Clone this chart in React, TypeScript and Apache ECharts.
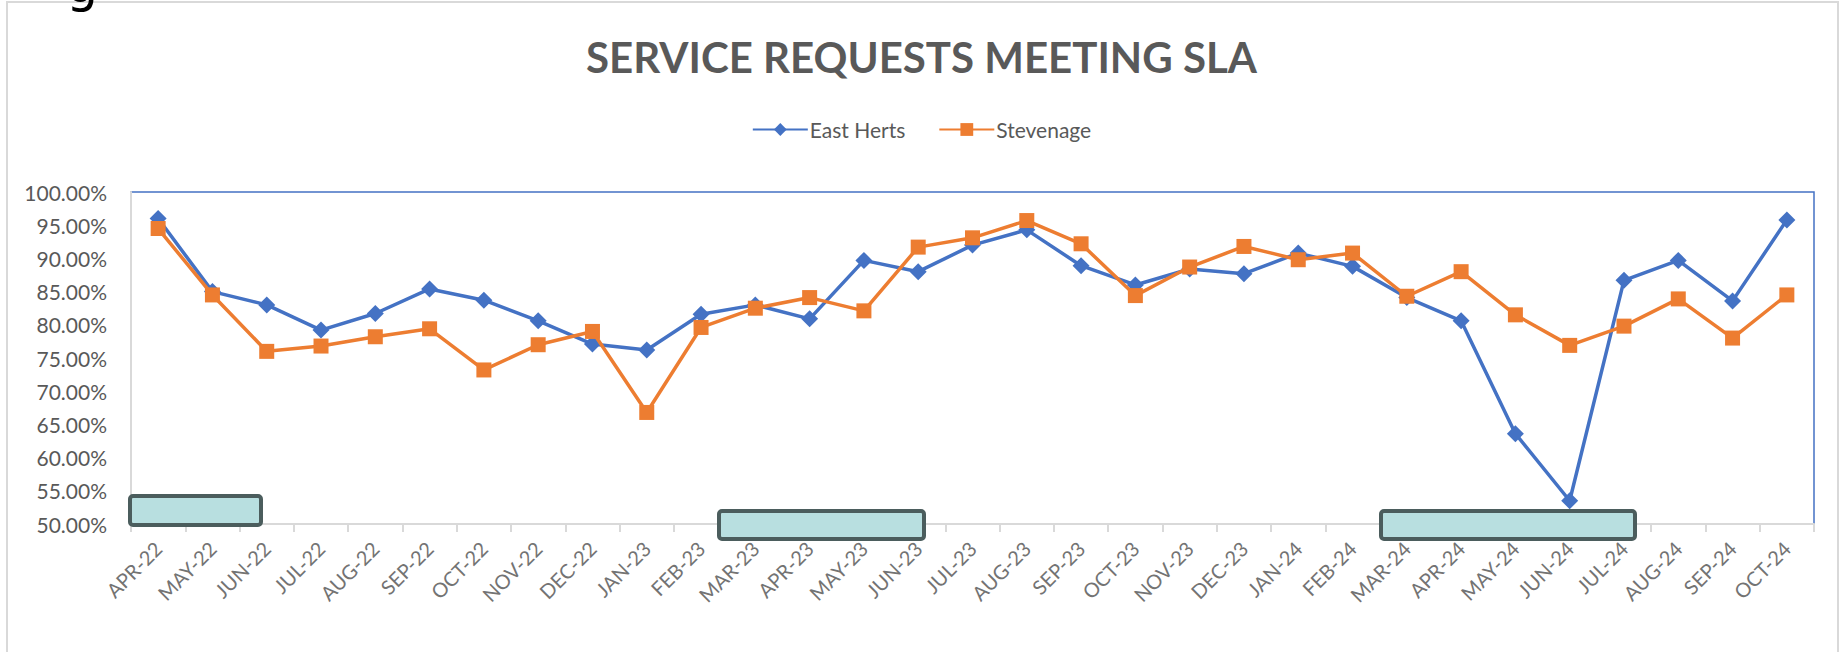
import React, { useEffect, useRef } from "react";
import * as echarts from "echarts";

const categories = [
  "APR-22", "MAY-22", "JUN-22", "JUL-22", "AUG-22", "SEP-22", "OCT-22", "NOV-22", "DEC-22",
  "JAN-23", "FEB-23", "MAR-23", "APR-23", "MAY-23", "JUN-23", "JUL-23", "AUG-23", "SEP-23",
  "OCT-23", "NOV-23", "DEC-23", "JAN-24", "FEB-24", "MAR-24", "APR-24", "MAY-24", "JUN-24",
  "JUL-24", "AUG-24", "SEP-24", "OCT-24",
];

const eastHerts = [
  96.0, 85.0, 83.0, 79.2, 81.7, 85.4, 83.7, 80.6, 77.1, 76.2, 81.6, 83.0, 80.9, 89.7, 88.0,
  92.0, 94.3, 88.9, 86.0, 88.4, 87.7, 90.8, 88.8, 84.1, 80.6, 63.6, 53.5, 86.7, 89.7, 83.6, 95.8,
];

const stevenage = [
  94.5, 84.5, 76.0, 76.8, 78.2, 79.4, 73.2, 77.0, 79.0, 66.8, 79.6, 82.5, 84.1, 82.1, 91.7,
  93.1, 95.7, 92.2, 84.4, 88.7, 91.8, 89.8, 90.8, 84.3, 88.0, 81.5, 76.9, 79.8, 83.9, 78.0, 84.5,
];

const seriesNames = ["East Herts", "Stevenage"];
const titleText = "SERVICE REQUESTS MEETING SLA";
const yMin = 50;
const yMax = 100;
const yStep = 5;

const FONT = "Lato, 'Open Sans', sans-serif";

export default function App() {
  const ref = useRef<HTMLDivElement>(null);

  useEffect(() => {
    if (!ref.current) return;
    const chart = echarts.init(ref.current, null, { renderer: "svg" });

    const box = (x: number, y: number, w: number, h: number) => ({
      type: "rect",
      shape: { x, y, width: w, height: h, r: 3 },
      style: { fill: "#B8DFE0", stroke: "#4B5D5D", lineWidth: 4 },
      z: 100,
    });

    chart.setOption({
      animation: false,
      backgroundColor: "#ffffff",
      title: {
        text: titleText,
        left: "center",
        top: 31,
        textStyle: {
          fontFamily: FONT,
          fontSize: 42,
          fontWeight: "bold",
          color: "#595959",
        },
      },
      legend: {
        data: seriesNames,
        top: 114,
        left: "center",
        itemWidth: 55,
        itemHeight: 16,
        itemGap: 33,
        textStyle: { fontFamily: FONT, fontSize: 21, color: "#595959", padding: [0, 0, 0, -3] },
      },
      grid: {
        left: 131,
        right: 29,
        top: 192,
        bottom: 128,
        show: true,
        borderColor: "#4472C4",
        borderWidth: 1.5,
        containLabel: false,
      },
      xAxis: {
        type: "category",
        data: categories,
        boundaryGap: true,
        axisLine: { show: true, lineStyle: { color: "#D9D9D9", width: 2 } },
        axisTick: { show: true, length: 8, lineStyle: { color: "#D9D9D9", width: 2 } },
        axisLabel: {
          interval: 0,
          rotate: 45,
          margin: 21,
          fontFamily: FONT,
          fontSize: 20,
          color: "#737373",
        },
        splitLine: { show: false },
      },
      yAxis: {
        type: "value",
        min: yMin,
        max: yMax,
        interval: yStep,
        axisLine: { show: true, lineStyle: { color: "#D9D9D9", width: 2 } },
        axisTick: { show: false },
        splitLine: { show: false },
        axisLabel: {
          margin: 24,
          fontFamily: FONT,
          fontSize: 21,
          color: "#595959",
          formatter: (v: number) => v.toFixed(2) + "%",
        },
      },
      series: [
        {
          name: seriesNames[0],
          type: "line",
          data: eastHerts,
          symbol: "diamond",
          symbolSize: 17,
          lineStyle: { color: "#4472C4", width: 3.5 },
          itemStyle: { color: "#4472C4" },
          z: 2,
        },
        {
          name: seriesNames[1],
          type: "line",
          data: stevenage,
          symbol: "rect",
          symbolSize: 15,
          lineStyle: { color: "#ED7D31", width: 3.5 },
          itemStyle: { color: "#ED7D31" },
          z: 3,
        },
      ],
      graphic: [
        {
          type: "rect",
          shape: { x: 7, y: 2, width: 1831, height: 700 },
          style: { fill: "none", stroke: "#D9D9D9", lineWidth: 2 },
          silent: true,
          z: -1,
        },
        {
          type: "text",
          x: 82,
          y: -40,
          style: {
            text: "g",
            fontSize: 50,
            fontFamily: "DejaVu Sans, sans-serif",
            fill: "#000000",
            align: "center",
            verticalAlign: "top",
          },
          z: 100,
        },
        box(130, 496, 131, 29),
        box(719, 511, 205, 28),
        box(1381, 511, 254, 28),
      ],
    });

    return () => chart.dispose();
  }, []);

  return (
    <div
      ref={ref}
      style={{ position: "fixed", left: 0, top: 0, width: 1843, height: 652 }}
    />
  );
}
